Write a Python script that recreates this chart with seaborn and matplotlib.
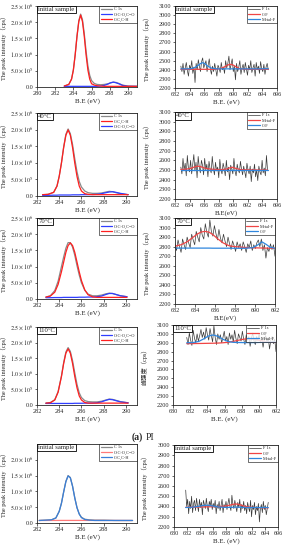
import numpy as np
import matplotlib
matplotlib.use('Agg')
import matplotlib.pyplot as plt
import seaborn as sns

# ---------------- data (C 1s panels, intensity in 10^6 cps) ----------------
c1_x = [283.0, 283.5, 283.8, 284.0, 284.2, 284.4, 284.6, 284.8, 285.0, 285.2, 285.4, 285.6, 285.8,
        286.0, 286.3, 286.6, 287.0, 287.4, 287.8, 288.1, 288.4, 288.7, 289.0, 289.4, 290.0, 291.0]
c1_env = [0.03, 0.08, 0.25, 0.53, 1.00, 1.58, 2.05, 2.25, 2.08, 1.65, 1.10, 0.65, 0.36, 0.20, 0.11,
          0.08, 0.07, 0.08, 0.10, 0.13, 0.15, 0.14, 0.11, 0.06, 0.03, 0.02]
c1_cc = [0.03, 0.08, 0.24, 0.52, 0.99, 1.56, 2.02, 2.22, 2.02, 1.56, 0.99, 0.52, 0.24, 0.10, 0.06,
         0.04, 0.03, 0.02, 0.02, 0.02, 0.02, 0.02, 0.02, 0.02, 0.02, 0.02]
c1_oco = [0.02, 0.02, 0.02, 0.02, 0.02, 0.02, 0.02, 0.02, 0.02, 0.02, 0.02, 0.02, 0.02, 0.02, 0.02,
          0.02, 0.03, 0.05, 0.09, 0.13, 0.15, 0.13, 0.10, 0.05, 0.02, 0.02]

c2_x = [282.5, 283.0, 283.5, 283.8, 284.0, 284.2, 284.4, 284.6, 284.8, 285.0, 285.2, 285.4, 285.6,
        285.8, 286.0, 286.3, 286.6, 287.0, 287.4, 287.8, 288.2, 288.5, 288.8, 289.1, 289.5, 290.2]
c2_env = [0.04, 0.05, 0.11, 0.30, 0.60, 1.00, 1.48, 1.86, 2.02, 1.88, 1.55, 1.12, 0.73, 0.44, 0.27,
          0.15, 0.10, 0.08, 0.08, 0.09, 0.12, 0.14, 0.13, 0.10, 0.07, 0.04]
c2_cc = [0.04, 0.05, 0.11, 0.30, 0.59, 0.99, 1.46, 1.83, 1.99, 1.83, 1.46, 0.99, 0.59, 0.30, 0.15,
         0.07, 0.05, 0.04, 0.04, 0.04, 0.04, 0.04, 0.04, 0.04, 0.04, 0.04]
c2_oco = [0.02, 0.02, 0.025, 0.025, 0.03, 0.03, 0.03, 0.03, 0.03, 0.03, 0.035, 0.035, 0.035, 0.035,
          0.04, 0.04, 0.04, 0.045, 0.05, 0.07, 0.10, 0.12, 0.13, 0.11, 0.08, 0.04]

c3_x = [282.8, 283.2, 283.6, 283.9, 284.2, 284.4, 284.6, 284.8, 285.0, 285.2, 285.4, 285.6, 285.8,
        286.0, 286.3, 286.6, 287.0, 287.4, 287.8, 288.2, 288.5, 288.8, 289.1, 289.5, 290.1]
c3_env = [0.06, 0.10, 0.26, 0.55, 1.00, 1.30, 1.57, 1.74, 1.74, 1.60, 1.35, 1.03, 0.74, 0.50, 0.27,
          0.15, 0.10, 0.10, 0.12, 0.16, 0.18, 0.17, 0.14, 0.10, 0.07]
c3_cc = [0.06, 0.09, 0.21, 0.45, 0.84, 1.14, 1.44, 1.65, 1.73, 1.65, 1.44, 1.14, 0.84, 0.57, 0.28,
         0.13, 0.065, 0.05, 0.05, 0.05, 0.05, 0.05, 0.05, 0.05, 0.05]
c3_oco = [0.04, 0.04, 0.045, 0.045, 0.045, 0.05, 0.05, 0.05, 0.05, 0.05, 0.05, 0.05, 0.055, 0.055,
          0.055, 0.06, 0.06, 0.07, 0.09, 0.14, 0.17, 0.17, 0.14, 0.10, 0.07]

c4_x = [282.8, 283.2, 283.6, 283.9, 284.2, 284.4, 284.6, 284.8, 285.0, 285.2, 285.4, 285.6, 285.8,
        286.0, 286.3, 286.6, 287.0, 287.4, 287.8, 288.2, 288.5, 288.8, 289.1, 289.5, 290.2]
c4_env = [0.06, 0.08, 0.17, 0.43, 0.93, 1.36, 1.70, 1.84, 1.72, 1.42, 1.03, 0.66, 0.39, 0.24, 0.14,
          0.11, 0.10, 0.10, 0.12, 0.16, 0.19, 0.18, 0.15, 0.11, 0.07]
c4_cc = [0.06, 0.07, 0.16, 0.41, 0.91, 1.33, 1.66, 1.80, 1.66, 1.33, 0.91, 0.55, 0.29, 0.16, 0.08,
         0.06, 0.06, 0.06, 0.06, 0.06, 0.06, 0.06, 0.06, 0.06, 0.06]
c4_oco = [0.05, 0.05, 0.05, 0.05, 0.05, 0.05, 0.05, 0.05, 0.05, 0.05, 0.055, 0.055, 0.055, 0.055,
          0.06, 0.06, 0.06, 0.07, 0.10, 0.15, 0.18, 0.17, 0.14, 0.10, 0.07]

c5_x = [282.2, 282.8, 283.3, 283.7, 284.0, 284.2, 284.4, 284.6, 284.8, 285.0, 285.2, 285.4, 285.6,
        285.8, 286.0, 286.3, 286.7, 287.2, 288.0, 289.0, 290.0, 290.6]
c5_env = [0.08, 0.09, 0.10, 0.16, 0.37, 0.63, 0.99, 1.32, 1.50, 1.44, 1.17, 0.80, 0.49, 0.29, 0.18,
          0.12, 0.10, 0.09, 0.09, 0.08, 0.08, 0.08]
c5_cc = [0.08, 0.09, 0.10, 0.16, 0.37, 0.62, 0.98, 1.31, 1.49, 1.43, 1.16, 0.79, 0.48, 0.28, 0.17,
         0.11, 0.09, 0.08, 0.08, 0.08, 0.08, 0.08]
c5_oco = [0.080, 0.080, 0.081, 0.081, 0.081, 0.082, 0.082, 0.082, 0.082, 0.082, 0.082, 0.082, 0.082,
          0.082, 0.082, 0.082, 0.081, 0.081, 0.080, 0.080, 0.079, 0.079]

# ---------------- data (F 1s panels, cps) ----------------
f1_range = (682.8, 694.8)
f1_raw = [2440, 2380, 2470, 2350, 2420, 2480, 2390, 2330, 2450, 2410, 2500, 2360, 2430, 2260, 2470,
          2400, 2510, 2440, 2380, 2490, 2530, 2420, 2460, 2500, 2380, 2450, 2520, 2410, 2350, 2440,
          2380, 2470, 2400, 2330, 2450, 2420, 2370, 2480, 2400, 2430, 2360, 2500, 2420, 2470, 2550,
          2400, 2460, 2520, 2380, 2440, 2290, 2470, 2380, 2430, 2500, 2350, 2420, 2460, 2370, 2480,
          2410, 2340, 2450, 2400, 2500, 2370, 2420, 2460, 2330, 2480, 2400, 2440, 2360, 2490, 2410,
          2380, 2460, 2350, 2430, 2470, 2400]
f1_x = [682.8, 683.5, 684.2, 684.8, 685.2, 685.5, 685.8, 686.1, 686.4, 687.0, 687.6, 688.2, 688.7,
        689.1, 689.5, 689.9, 690.3, 690.8, 691.5, 692.5, 693.5, 694.8]
f1_metal = [2410, 2410, 2412, 2428, 2450, 2468, 2478, 2468, 2445, 2418, 2411, 2410, 2410, 2410, 2410,
            2410, 2410, 2410, 2410, 2410, 2410, 2412]
f1_cf = [2405, 2405, 2405, 2405, 2405, 2405, 2405, 2405, 2405, 2405, 2406, 2412, 2428, 2446, 2460,
         2455, 2437, 2415, 2406, 2405, 2405, 2405]

f2_range = (682.8, 694.7)
f2_raw = [2530, 2460, 2620, 2500, 2570, 2440, 2650, 2520, 2480, 2600, 2460, 2560, 2660, 2490, 2580,
          2420, 2640, 2530, 2470, 2600, 2550, 2450, 2620, 2500, 2560, 2430, 2590, 2510, 2470, 2640,
          2520, 2450, 2580, 2490, 2530, 2420, 2610, 2500, 2460, 2570, 2520, 2440, 2600, 2480, 2530,
          2400, 2550, 2510, 2460, 2620, 2490, 2440, 2560, 2500, 2470, 2590, 2510, 2450, 2540, 2480,
          2420, 2570, 2500, 2460, 2540, 2380, 2510, 2470, 2560, 2430, 2500, 2390, 2540, 2480, 2450,
          2600, 2470, 2520, 2440, 2650, 2500]
f2_x = [682.8, 683.5, 684.2, 684.7, 685.1, 685.5, 686.0, 686.6, 687.4, 688.4, 689.1, 689.5, 689.9,
        690.4, 691.0, 692.0, 693.5, 694.7]
f2_metal = [2505, 2508, 2518, 2532, 2540, 2535, 2522, 2512, 2506, 2504, 2510, 2522, 2528, 2515, 2504,
            2502, 2500, 2500]
f2_cf = [2500, 2500, 2500, 2500, 2500, 2500, 2500, 2500, 2500, 2500, 2500, 2500, 2500, 2500, 2500,
         2500, 2500, 2500]

f3_range = (682.0, 692.0)
f3_raw = [2830, 2760, 2870, 2800, 2740, 2880, 2820, 2770, 2900, 2840, 2790, 2930, 2870, 2820, 2960,
          2900, 2850, 3000, 2920, 2880, 3040, 2950, 2900, 3080, 2960, 2910, 3020, 2940, 2870, 2980,
          2890, 2840, 2930, 2860, 2800, 2900, 2830, 2770, 2860, 2810, 2750, 2850, 2790, 2830, 2760,
          2850, 2800, 2740, 2830, 2790, 2860, 2760, 2820, 2780, 2840, 2870, 2800, 2880, 2760, 2820,
          2680, 2790, 2750, 2830, 2770, 2820, 2700]
f3_x = [682.0, 682.6, 683.2, 683.7, 684.2, 684.6, 685.0, 685.4, 685.8, 686.3, 686.8, 687.4, 688.0,
        689.0, 689.8, 690.3, 690.7, 691.1, 691.5, 692.0]
f3_metal = [2805, 2820, 2850, 2890, 2930, 2953, 2960, 2952, 2925, 2880, 2840, 2810, 2800, 2792, 2788,
            2787, 2786, 2785, 2784, 2782]
f3_cf = [2785, 2785, 2785, 2785, 2785, 2785, 2785, 2785, 2784, 2784, 2784, 2784, 2783, 2783, 2790,
         2820, 2850, 2825, 2795, 2783]

f4_range = (681.6, 692.0)
f4_raw = [2960, 2880, 3010, 2930, 2870, 3040, 2950, 2900, 3000, 2920, 2980, 3050, 2960, 3020, 2940,
          3070, 2990, 2930, 3060, 2980, 2910, 3090, 2960, 2880, 3000, 2940, 2990, 2900, 2960, 3030,
          2920, 2970, 2880, 3010, 2940, 2990, 2910, 3040, 2950, 2890, 3000, 2960, 2920, 3030, 2940,
          2880, 2990, 2930, 2970, 2860, 2950, 3010, 2920, 2880, 2970, 2930, 3000, 2900, 2960, 2850,
          2940, 2980, 2900, 2960, 2830, 2930, 2970, 2890, 2940, 2800]
f4_x = [681.6, 682.3, 683.0, 683.6, 684.1, 684.7, 685.3, 685.8, 686.4, 687.0, 687.6, 688.2, 688.7,
        689.2, 689.8, 690.5, 691.2, 692.0]
f4_metal = [2900, 2902, 2915, 2945, 2975, 2988, 2970, 2940, 2915, 2905, 2903, 2902, 2902, 2902, 2903,
            2905, 2908, 2910]
f4_cf = [2890, 2891, 2892, 2893, 2894, 2895, 2897, 2900, 2905, 2915, 2928, 2940, 2945, 2942, 2932,
         2918, 2908, 2905]

f5_range = (681.8, 694.5)
f5_raw = [2560, 2400, 2470, 2330, 2450, 2380, 2500, 2340, 2430, 2460, 2360, 2480, 2410, 2350, 2470,
          2390, 2440, 2320, 2460, 2420, 2380, 2480, 2400, 2350, 2450, 2410, 2470, 2370, 2430, 2390,
          2460, 2330, 2420, 2380, 2450, 2360, 2410, 2470, 2340, 2420, 2390, 2450, 2370, 2430, 2480,
          2400, 2360, 2510, 2420, 2380, 2460, 2400, 2350, 2440, 2390, 2470, 2340, 2420, 2380, 2450,
          2360, 2410, 2330, 2440, 2390, 2350, 2460, 2300, 2410, 2370, 2440, 2320, 2400, 2360, 2430,
          2250, 2380, 2420, 2340, 2450, 2370, 2410, 2320, 2380, 2440]
f5_x = [681.8, 682.8, 683.8, 684.5, 685.2, 686.0, 686.8, 687.6, 688.4, 689.0, 689.5, 690.0, 690.7,
        691.5, 692.5, 693.5, 694.5]
f5_metal = [2390, 2393, 2402, 2410, 2412, 2405, 2396, 2392, 2391, 2392, 2394, 2393, 2391, 2390, 2390,
            2390, 2390]
f5_cf = [2392, 2394, 2395, 2396, 2397, 2398, 2400, 2402, 2410, 2420, 2425, 2420, 2405, 2395, 2390,
         2388, 2387]

# ---------------- tick labels ----------------
c_yticks = [0.0, 0.5, 1.0, 1.5, 2.0, 2.5]
c_yticklabels = ["0.0", r"$5.0\times10^5$", r"$1.0\times10^6$", r"$1.5\times10^6$",
                 r"$2.0\times10^6$", r"$2.5\times10^6$"]

# ---------------- style ----------------
sns.set_style('ticks')
plt.rcParams['font.family'] = ['Liberation Serif', 'Noto Sans CJK SC']
plt.rcParams['mathtext.fontset'] = 'stix'
plt.rcParams['axes.linewidth'] = 0.6
plt.rcParams['xtick.major.width'] = 0.5
plt.rcParams['ytick.major.width'] = 0.5
plt.rcParams['xtick.major.size'] = 1.8
plt.rcParams['ytick.major.size'] = 1.8
plt.rcParams['xtick.major.pad'] = 1.2
plt.rcParams['ytick.major.pad'] = 1.0

W, H = 284, 550
fig = plt.figure(figsize=(W / 100, H / 100), dpi=100)
fig.patch.set_facecolor('white')

TICK_FS = 4.4
LAB_FS = 5.0
YLAB_FS = 4.5
LEG_FS = 3.2
TAG_FS = 4.8

def add_ax(l, t, r, b):
    return fig.add_axes([l / W, 1 - b / H, (r - l) / W, (b - t) / H])

def decorate(ax, tag, xlabel, ylabel, ylab_x):
    ax.set_xlabel(xlabel, fontsize=LAB_FS, labelpad=1.5)
    ax.set_ylabel(ylabel, fontsize=YLAB_FS)
    ax.yaxis.set_label_coords(ylab_x, 0.5)
    ax.tick_params(labelsize=TICK_FS, direction='out')
    for s in ax.spines.values():
        s.set_visible(True)
        s.set_linewidth(0.6)
    ax.text(0.012, 0.985, tag, transform=ax.transAxes, ha='left', va='top', fontsize=TAG_FS,
            bbox=dict(boxstyle='square,pad=0.18', fc='white', ec='black', lw=0.6), zorder=10)

def legend(ax, handles, labels):
    lg = ax.legend(handles, labels, loc='upper right', fontsize=LEG_FS, frameon=True, fancybox=False,
                   edgecolor='black', borderaxespad=0.0, handlelength=2.6, handletextpad=0.4,
                   borderpad=0.3, labelspacing=0.25)
    lg.get_frame().set_linewidth(0.5)
    lg.set_zorder(11)

GRAY = '#8a8a8a'
RED = '#ff1f1f'
BLUE = '#2f3dff'

def c_panel(box, x, env, cc, oco, order, cols, tag, xlim, xticks, yticks):
    ax = add_ax(*box)
    lines = {}
    sns.lineplot(x=x, y=np.array(env) * 1e6, ax=ax, color=cols[0], lw=0.9)
    lines['C 1s'] = ax.lines[-1]
    sns.lineplot(x=x, y=np.array(oco) * 1e6, ax=ax, color=cols[1], lw=0.9)
    lines['O-C-O,C=O'] = ax.lines[-1]
    sns.lineplot(x=x, y=np.array(cc) * 1e6, ax=ax, color=cols[2], lw=0.9)
    lines['C-C,C-H'] = ax.lines[-1]
    ax.set_xlim(*xlim)
    ax.set_ylim(0, 2.5e6)
    ax.set_xticks(xticks)
    ax.set_yticks(np.array(yticks) * 1e6)
    ax.set_yticklabels([c_yticklabels[c_yticks.index(v)] for v in yticks])
    decorate(ax, tag, "B.E (eV)", "The peak intensity（cps）", -0.3)
    legend(ax, [lines[k] for k in order], order)
    return ax

def f_panel(box, rng, raw, x, metal, cf, order, tag, xlim, xticks, ylim, yticks, xlabel, ylabel):
    ax = add_ax(*box)
    xr = np.linspace(rng[0], rng[1], len(raw))
    lines = {}
    sns.lineplot(x=xr, y=raw, ax=ax, color='#3a3a3a', lw=0.5)
    lines['F 1s'] = ax.lines[-1]
    sns.lineplot(x=x, y=cf if order[1] == 'C-F' else metal, ax=ax, color='#f04545', lw=0.9)
    lines[order[1]] = ax.lines[-1]
    sns.lineplot(x=x, y=metal if order[2] == 'Metal-F' else cf, ax=ax, color='#2f86dd', lw=0.9)
    lines[order[2]] = ax.lines[-1]
    ax.set_xlim(*xlim)
    ax.set_ylim(*ylim)
    ax.set_xticks(xticks)
    ax.set_yticks(yticks)
    decorate(ax, tag, xlabel, ylabel, -0.25)
    legend(ax, [lines[k] for k in order], order)
    return ax

cols_std = [GRAY, BLUE, RED]
# Row 1
c_panel((37, 6, 137, 87), c1_x, c1_env, c1_cc, c1_oco, ['C 1s', 'O-C-O,C=O', 'C-C,C-H'], cols_std,
        'initial sample', (280, 291), [280, 282, 284, 286, 288, 290], c_yticks)
f_panel((175, 6, 277, 88), f1_range, f1_raw, f1_x, f1_metal, f1_cf, ['F 1s', 'C-F', 'Metal-F'],
        'initial sample', (682, 696), list(range(682, 697, 2)), (2200, 3100), list(range(2200, 3101, 100)),
        "B.E. (eV)", "The peak intensity（cps）")
# Row 2
c_panel((37, 113, 137, 196), c2_x, c2_env, c2_cc, c2_oco, ['C 1s', 'C-C,C-H', 'O-C-O,C=O'], cols_std,
        '40°C', (282, 291), [282, 284, 286, 288, 290], c_yticks)
f_panel((175, 112, 277, 199), f2_range, f2_raw, f2_x, f2_metal, f2_cf, ['F 1s', 'Metal-F', 'C-F'],
        '40°C', (682, 696), list(range(682, 697, 2)), (2200, 3100), list(range(2200, 3101, 100)),
        "B.E(eV)", "The peak intensity（cps）")
# Row 3
c_panel((37, 218, 137, 299), c3_x, c3_env, c3_cc, c3_oco, ['C 1s', 'O-C-O,C=O', 'C-C,C-H'], cols_std,
        '70°C', (282, 291), [282, 284, 286, 288, 290], c_yticks)
f_panel((175, 218, 275, 304), f3_range, f3_raw, f3_x, f3_metal, f3_cf, ['F 1s', 'Metal-F', 'C-F'],
        '70°C', (682, 692), list(range(682, 693, 2)), (2200, 3100), list(range(2200, 3101, 100)),
        "B.E(eV)", "The peak intensity（cps）")
# Row 4
c_panel((37, 327, 137, 405), c4_x, c4_env, c4_cc, c4_oco, ['C 1s', 'O-C-O,C=O', 'C-C,C-H'], cols_std,
        '110°C', (282, 291), [282, 284, 286, 288, 290], c_yticks)
f_panel((173, 325, 276, 405), f4_range, f4_raw, f4_x, f4_metal, f4_cf, ['F 1s', 'C-F', 'Metal-F'],
        '110°C', (680, 692), list(range(680, 693, 2)), (2200, 3100), list(range(2200, 3101, 100)),
        "B.E. (eV)", "峰强度（cps）")
# Row 5
c_panel((37, 444, 137, 523), c5_x, c5_env, c5_cc, c5_oco, ['C 1s', 'O-C-O,C=O', 'C-C,C-H'],
        ['#8a8a8a', '#ff7a7a', '#3a7fd8'], 'initial sample', (282, 291), [282, 284, 286, 288, 290],
        [0.0, 0.5, 1.0, 1.5, 2.0])
f_panel((174, 445, 278, 527), f5_range, f5_raw, f5_x, f5_metal, f5_cf, ['F 1s', 'C-F', 'Metal-F'],
        'initial sample', (680, 696), list(range(680, 697, 2)), (2200, 3000), list(range(2200, 3001, 100)),
        "B.E. (eV)", "The peak intensity（cps）")

fig.text(143 / W, 1 - 437 / H, "(a)", ha='right', va='center', fontsize=7, fontweight='bold')
fig.text(146 / W, 1 - 437 / H, "PI", ha='left', va='center', fontsize=7)

fig.savefig('out.png', dpi=100, facecolor='white')
